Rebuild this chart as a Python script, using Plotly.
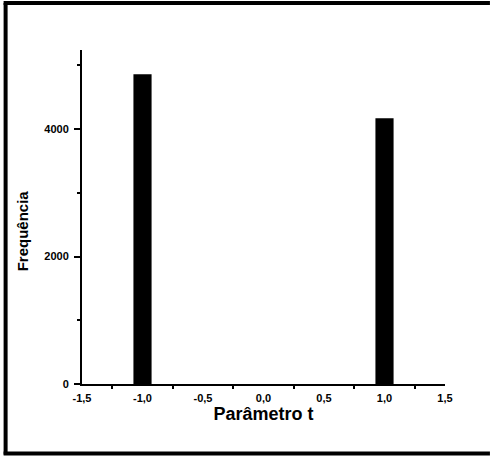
import plotly.graph_objects as go

# Data
param_t = [-1.0, 1.0]
frequencia = [4860, 4170]
x_tick_vals = [-1.5, -1.0, -0.5, 0.0, 0.5, 1.0, 1.5]
y_tick_vals = [0, 2000, 4000]

W, H = 490, 457
L, R_px, T, B_px = 81.5, 445.0, 50.0, 384.5
XR = [-1.5, 1.5]
YR = [0, 5240]

def px_x(p):
    return (p - L) / (R_px - L)

def px_y(p):
    return (B_px - p) / (B_px - T)

fig = go.Figure()
fig.add_trace(go.Bar(
    x=param_t, y=frequencia, width=0.15,
    marker=dict(color="black", line=dict(width=0)),
    showlegend=False,
))

tickfont = dict(family="Liberation Sans, Arial, sans-serif", size=11, color="black", weight="bold")

fig.update_layout(
    width=W, height=H,
    margin=dict(l=L, r=W - R_px, t=T, b=H - B_px, pad=0),
    paper_bgcolor="white", plot_bgcolor="white",
    separators=", ",
    font=dict(family="Liberation Sans, Arial, sans-serif", color="black"),
    xaxis=dict(
        range=XR, showgrid=False, zeroline=False,
        showline=True, linecolor="black", linewidth=2,
        tickvals=x_tick_vals, ticktext=[f"{v:.1f}".replace(".", ",") for v in x_tick_vals],
        ticks="", tickfont=tickfont,
        ticklabelstandoff=3,
        minor=dict(tick0=-1.25, dtick=0.5, ticks="outside", ticklen=3, tickwidth=2, tickcolor="black"),
        title=dict(text="<b>Parâmetro t</b>", font=dict(size=18), standoff=4),
    ),
    yaxis=dict(
        range=YR, showgrid=False, zeroline=False,
        showline=True, linecolor="black", linewidth=2,
        tickvals=y_tick_vals, ticktext=[str(v) for v in y_tick_vals],
        ticks="outside", ticklen=6, tickwidth=2, tickcolor="black",
        tickfont=tickfont, ticklabelstandoff=3,
        minor=dict(tick0=1000, dtick=2000, ticks="outside", ticklen=3, tickwidth=2, tickcolor="black"),
    ),
    annotations=[dict(
        text="<b>Frequência</b>", textangle=-90,
        x=px_x(22), y=px_y(231), xref="paper", yref="paper",
        showarrow=False, font=dict(size=15),
        xanchor="center", yanchor="middle",
    )],
    shapes=[
        dict(type="line", xref="paper", yref="paper", x0=px_x(5), x1=px_x(5), y0=px_y(3), y1=px_y(455),
             line=dict(color="black", width=4)),
        dict(type="line", xref="paper", yref="paper", x0=px_x(3), x1=px_x(490), y0=px_y(3), y1=px_y(3),
             line=dict(color="black", width=4)),
        dict(type="line", xref="paper", yref="paper", x0=px_x(3), x1=px_x(490), y0=px_y(454), y1=px_y(454),
             line=dict(color="black", width=4)),
    ],
)

fig.write_html("out.html")
